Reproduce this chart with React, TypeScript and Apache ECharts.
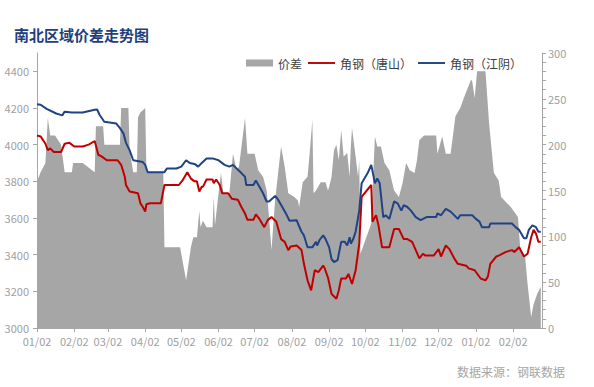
import React, { useEffect, useRef } from "react";
import * as echarts from "echarts";

// Calendar days from 2019-01-02 to 2020-02-26 (category axis)
const START = Date.UTC(2019, 0, 2);
const DAY_COUNT = 421;
const categories: string[] = [];
for (let i = 0; i < DAY_COUNT; i++) {
  const d = new Date(START + i * 86400000);
  const mm = String(d.getUTCMonth() + 1).padStart(2, "0");
  const dd = String(d.getUTCDate()).padStart(2, "0");
  categories.push(`${d.getUTCFullYear()}-${mm}-${dd}`);
}

// Series names
const seriesNames = ["价差", "角钢（唐山）", "角钢（江阴）"];

// 角钢（江阴）: sample days (days since 2019-01-02) and prices
const jiangyinDay = [
  0, 3, 8, 16, 21, 23, 29, 38, 48, 50, 52, 56, 66, 69, 72, 74, 77, 80, 88, 90, 92, 106,
  108, 116, 120, 124, 127, 131, 134, 137, 141, 146, 151, 153, 156, 160, 163, 166, 170, 173,
  174, 180, 182, 185, 188, 191, 193, 198, 200, 204, 207, 210, 216, 217, 220, 222, 225, 229,
  232, 233, 235, 238, 240, 243, 245, 247, 250, 253, 256, 258, 260, 261, 263, 265, 268, 270,
  275, 278, 281, 283, 285, 288, 290, 293, 297, 300, 303, 305, 308, 311, 315, 319, 324, 332,
  333, 336, 340, 344, 350, 352, 362, 365, 368, 370, 376, 377, 395, 398, 401, 405, 407, 409,
  412, 415, 417, 419,
];
const jiangyin = [
  4220, 4218, 4195, 4170, 4160, 4180, 4175, 4175, 4190, 4192, 4163, 4125, 4115, 4090, 4060,
  4010, 3970, 3915, 3905, 3890, 3850, 3850, 3870, 3870, 3880, 3915, 3900, 3895, 3880, 3900,
  3925, 3925, 3915, 3905, 3890, 3880, 3890, 3870, 3845, 3825, 3780, 3780, 3805, 3770, 3735,
  3690, 3690, 3720, 3705, 3660, 3625, 3585, 3588, 3570, 3525, 3505, 3440, 3440, 3470, 3450,
  3480, 3505, 3485, 3440, 3375, 3360, 3370, 3470, 3470, 3450, 3495, 3460, 3485, 3525, 3640,
  3790, 3845, 3890, 3790, 3815, 3790, 3605, 3615, 3595, 3690, 3680, 3640, 3670, 3660, 3640,
  3605, 3588, 3605, 3605, 3625, 3615, 3650, 3635, 3595, 3615, 3615, 3595, 3580, 3550, 3550,
  3570, 3570, 3550, 3535, 3490, 3490, 3535, 3560, 3550, 3525, 3525,
];

// 角钢（唐山）
const tangshanDay = [
  0, 3, 7, 9, 11, 14, 20, 23, 27, 31, 38, 43, 48, 51, 54, 58, 67, 70, 73, 74, 77, 84, 86, 88,
  90, 91, 94, 103, 106, 118, 121, 125, 128, 131, 133, 135, 137, 138, 141, 146, 147, 149, 152,
  154, 159, 162, 167, 170, 173, 175, 180, 182, 185, 189, 192, 195, 199, 203, 206, 209, 211,
  216, 220, 222, 225, 228, 231, 234, 238, 239, 242, 245, 249, 251, 253, 257, 259, 262, 265,
  268, 270, 278, 279, 282, 284, 287, 293, 297, 301, 305, 308, 312, 318, 321, 323, 330, 334,
  336, 340, 343, 347, 350, 357, 359, 364, 369, 373, 375, 377, 382, 384, 390, 395, 397, 401,
  405, 408, 411, 413, 415, 417, 419,
];
const tangshan = [
  4050, 4045, 4005, 3970, 3980, 3960, 3960, 4005, 4010, 3990, 3990, 4000, 4020, 3945, 3935,
  3915, 3915, 3890, 3825, 3780, 3745, 3735, 3680, 3660, 3635, 3675, 3680, 3680, 3780, 3780,
  3805, 3850, 3815, 3800, 3800, 3745, 3770, 3770, 3810, 3810, 3790, 3810, 3780, 3735, 3735,
  3705, 3700, 3660, 3625, 3590, 3590, 3620, 3595, 3550, 3590, 3605, 3580, 3485, 3470, 3425,
  3445, 3450, 3425, 3350, 3260, 3205, 3315, 3305, 3340, 3330, 3275, 3185, 3160, 3205, 3270,
  3270, 3295, 3240, 3315, 3460, 3715, 3780, 3580, 3615, 3560, 3440, 3440, 3540, 3540, 3485,
  3485, 3470, 3380, 3405, 3395, 3395, 3430, 3390, 3450, 3430, 3380, 3350, 3340, 3325, 3315,
  3270, 3260, 3280, 3350, 3390, 3395, 3415, 3425, 3415, 3440, 3390, 3405, 3495, 3535, 3515,
  3470, 3470,
];

// 价差 (right axis)
const diffDay = [
  0, 3, 7, 8, 9, 11, 15, 20, 22, 23, 29, 30, 38, 48, 49, 55, 56, 69, 70, 76, 77, 80, 83, 84,
  86, 90, 91, 102, 105, 106, 119, 124, 128, 130, 133, 135, 136, 138, 141, 146, 147, 148, 151,
  153, 155, 160, 163, 166, 168, 173, 175, 181, 184, 188, 191, 193, 195, 198, 203, 206, 209,
  214, 217, 218, 221, 225, 227, 229, 230, 232, 236, 240, 242, 243, 245, 247, 249, 251, 253,
  255, 258, 260, 261, 262, 265, 267, 268, 269, 278, 281, 283, 286, 289, 293, 297, 301, 304,
  307, 310, 314, 316, 318, 322, 332, 333, 337, 340, 344, 348, 352, 355, 361, 362, 364, 366,
  373, 376, 380, 384, 386, 394, 400, 402, 406, 408, 411, 413, 416, 419,
];
const diff = [
  160, 170, 180, 205, 229, 210, 210, 200, 180, 170, 170, 180, 180, 170, 220, 220, 200, 200,
  240, 240, 195, 170, 170, 230, 235, 240, 170, 170, 170, 88, 88, 52, 88, 99, 99, 128, 110, 117,
  110, 110, 143, 112, 147, 169, 147, 147, 190, 172, 176, 229, 190, 190, 172, 165, 150, 121, 85,
  139, 198, 176, 147, 143, 139, 132, 159, 165, 194, 227, 147, 150, 159, 159, 150, 154, 165,
  194, 200, 183, 216, 187, 191, 165, 198, 218, 187, 165, 183, 81, 114, 209, 198, 198, 180, 172,
  150, 143, 158, 180, 172, 169, 183, 205, 210, 210, 190, 209, 190, 190, 231, 240, 251, 271,
  269, 251, 280, 280, 223, 169, 161, 143, 132, 121, 85, 77, 48, 12, 26, 37, 45,
];

const leftAxisMin = 3000;
const leftAxisMax = 4500;
const leftAxisStep = 200;
const rightAxisMin = 0;
const rightAxisMax = 300;
const rightAxisStep = 50;

const titleText = "南北区域价差走势图";
const sourceText = "数据来源：钢联数据";

const FONT = "'Noto Sans CJK SC', 'Noto Sans', sans-serif";
const AXIS_GRAY = "#a6a6a6";
const LABEL_GRAY = "#a0a0a0";
const LINE_ICON = "path://M0,0H28V2H0Z";

export default function App() {
  const ref = useRef<HTMLDivElement>(null);
  useEffect(() => {
    if (!ref.current) return;
    const chart = echarts.init(ref.current, null, { renderer: "svg" });
    const isMonthTick = (_i: number, v: string) => v.slice(8) === "02";
    chart.setOption({
      animation: false,
      backgroundColor: "#ffffff",
      textStyle: { fontFamily: FONT },
      title: [
        {
          text: titleText,
          left: 9,
          top: 22,
          textStyle: { fontSize: 15, fontWeight: "bold", color: "#1f3f7c", fontFamily: FONT },
        },
        {
          text: sourceText,
          right: 24,
          top: 360,
          textStyle: { fontSize: 12, fontWeight: "normal", color: "#a6a6a6", fontFamily: FONT },
        },
      ],
      legend: {
        left: 241,
        top: 52,
        itemWidth: 27,
        itemHeight: 7,
        itemGap: 6,
        symbolKeepAspect: true,
        textStyle: { fontSize: 12, color: "#404040", fontFamily: FONT },
        data: [
          { name: seriesNames[0], icon: "rect" },
          { name: seriesNames[1], icon: LINE_ICON },
          { name: seriesNames[2], icon: LINE_ICON },
        ],
      },
      grid: { left: 37, right: 52, top: 53, bottom: 59, containLabel: false },
      xAxis: {
        type: "category",
        data: categories,
        boundaryGap: false,
        axisLine: { lineStyle: { color: AXIS_GRAY } },
        axisTick: { interval: isMonthTick, length: 4, lineStyle: { color: AXIS_GRAY } },
        axisLabel: {
          interval: isMonthTick,
          formatter: (v: string) => `${v.slice(5, 7)}/${v.slice(8)}`,
          color: LABEL_GRAY,
          fontSize: 11,
          margin: 7,
          fontFamily: FONT,
        },
        splitLine: { show: false },
      },
      yAxis: [
        {
          type: "value",
          position: "left",
          min: leftAxisMin,
          max: leftAxisMax,
          interval: leftAxisStep,
          axisLine: { show: true, lineStyle: { color: AXIS_GRAY } },
          axisTick: { show: true, length: 4, lineStyle: { color: AXIS_GRAY } },
          axisLabel: {
            color: LABEL_GRAY,
            fontSize: 11,
            margin: 8,
            showMaxLabel: false,
            fontFamily: FONT,
            formatter: (v: number) => String(v),
          },
          splitLine: { show: false },
        },
        {
          type: "value",
          position: "right",
          min: rightAxisMin,
          max: rightAxisMax,
          interval: rightAxisStep,
          axisLine: { show: true, lineStyle: { color: AXIS_GRAY } },
          axisTick: { show: true, length: 4, lineStyle: { color: AXIS_GRAY } },
          minorTick: { show: true, splitNumber: 5, length: 4, lineStyle: { color: AXIS_GRAY } },
          axisLabel: { color: LABEL_GRAY, fontSize: 11, margin: 6, fontFamily: FONT },
          splitLine: { show: false },
        },
      ],
      series: [
        {
          name: seriesNames[0],
          type: "line",
          yAxisIndex: 1,
          symbol: "none",
          data: diffDay.map((d, i) => [d, diff[i]]),
          lineStyle: { width: 0, color: "#a6a6a6" },
          itemStyle: { color: "#a6a6a6" },
          areaStyle: { color: "#a6a6a6", opacity: 1 },
          z: 1,
        },
        {
          name: seriesNames[1],
          type: "line",
          yAxisIndex: 0,
          symbol: "none",
          data: tangshanDay.map((d, i) => [d, tangshan[i]]),
          lineStyle: { width: 2, color: "#c00000" },
          itemStyle: { color: "#c00000" },
          z: 3,
        },
        {
          name: seriesNames[2],
          type: "line",
          yAxisIndex: 0,
          symbol: "none",
          data: jiangyinDay.map((d, i) => [d, jiangyin[i]]),
          lineStyle: { width: 2, color: "#1f4385" },
          itemStyle: { color: "#1f4385" },
          z: 3,
        },
      ],
    });
    return () => chart.dispose();
  }, []);
  return (
    <div
      ref={ref}
      style={{ position: "fixed", left: 0, top: 0, width: 594, height: 387, background: "#fff" }}
    />
  );
}
